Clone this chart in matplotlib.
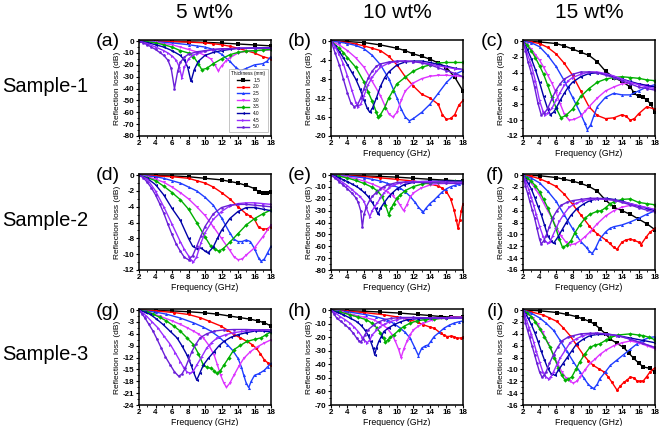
import matplotlib
matplotlib.use("Agg")
import matplotlib.pyplot as plt
from matplotlib.ticker import MultipleLocator

plt.rcParams['font.family'] = ['Liberation Sans', 'DejaVu Sans']
plt.rcParams['axes.unicode_minus'] = False

THICKNESS = ['1.5', '2.0', '2.5', '3.0', '3.5', '4.0', '4.5', '5.0']
COLUMN_TITLES = ['5 wt%', '10 wt%', '15 wt%']
ROW_TITLES = ['Sample-1', 'Sample-2', 'Sample-3']
PANEL_LETTERS = ['(a)', '(b)', '(c)', '(d)', '(e)', '(f)', '(g)', '(h)', '(i)']
Y_MIN = [-80, -20, -12, -12, -80, -16, -24, -70, -16]
Y_STEP = [10, 4, 2, 2, 10, 2, 3, 10, 2]

# ---- panel (a) ----
A_F = [[2,4,6,8,10,12,14,16,18],
       [2,4,6,8,10,11,12,13,14,15,16,17,18],
       [2,4,6,8,9,10,11,12,13,13.7,14.3,15,16,17,17.5,18],
       [2,4,6,7,8,9,10,10.7,11.2,11.6,12,12.5,13,14,15,16,17,18],
       [2,3,4,5,6,7,8,8.6,9.2,9.6,10.2,11,12,13,14,15,16,17,18],
       [2,3,4,5,6,7,7.5,7.9,8.3,8.7,9.2,10,11,12,13,14,16,18],
       [2,3,4,5,5.5,6,6.5,6.9,7.2,7.5,8,8.5,9,10,11,12,14,16,18],
       [2,2.5,3,3.5,4,4.5,5,5.5,5.9,6.3,6.7,7,7.5,8,9,10,11,12,14,16,18]]
A_RL = [[0,-0.1,-0.3,-0.6,-1,-1.6,-2.4,-3.2,-4],
        [0,-0.1,-0.3,-0.8,-1.5,-2.2,-3,-4.3,-6,-8,-10,-13,-15],
        [0,-0.5,-1.5,-3,-4,-5,-7,-11,-17,-22,-25,-23,-20,-19,-17,-13],
        [0,-1,-3,-5,-7,-9,-12,-15,-20,-25,-21,-17,-14,-10,-8.5,-8,-7.8,-7.5],
        [0,-0.5,-1.5,-3,-5,-8,-10,-13,-19,-24,-23,-19,-15,-11.5,-9.5,-8.5,-8,-7.5,-7],
        [0,-1.2,-3,-5,-8,-12,-16,-22,-34,-24,-17,-12,-9.5,-8,-7,-6,-5.7,-5.5],
        [0,-2,-5,-8,-10,-12.5,-16,-22,-31,-22,-15,-12,-10.5,-8.5,-7.2,-6.5,-6,-6,-6],
        [0,-1.5,-3,-5,-7,-9.5,-12,-16,-23,-40,-25,-18,-13.5,-11,-9,-8,-7,-6.5,-6.2,-6,-6]]

# ---- panel (b) ----
B_F = [[2,4,6,8,10,11,12,13,14,15,16,17,18],
       [2,3,4,5,6,7,8,9,10,11,12,13,14,15,15.5,16,16.5,17,17.5,18],
       [2,3,4,5,6,7,8,9,10,10.5,11,11.5,12,13,14,15,16,17,18],
       [2,3,4,5,6,7,8,8.5,9,9.5,10,10.5,11,12,13,14,15,16,17,18],
       [2,3,3.5,4,5,6,6.5,7,7.5,7.7,8,8.5,9,9.5,10,11,12,13,14,15,16,17,18],
       [2,2.5,3,3.5,4,4.5,5,5.5,6,6.4,6.7,7,7.5,8,8.5,9,10,11,12,13,14,15,16,17,18],
       [2,2.5,3,3.5,4,4.5,5,5.3,5.6,6,6.5,7,7.5,8,9,10,11,12,13,14,15,16,17,18],
       [2,2.5,3,3.5,4,4.4,4.8,5.2,5.6,6,6.5,7,7.5,8,9,10,11,12,13,14,15,16,17,18]]
B_RL = [[0,-0.1,-0.3,-0.8,-1.5,-2,-2.7,-3.2,-3.8,-4.6,-5.6,-7.6,-10.5],
        [0,-0.1,-0.3,-0.6,-1,-1.5,-2,-3.2,-5,-7.5,-9.5,-11.2,-12,-13.3,-15.5,-16.5,-16.3,-15.5,-13.5,-12.5],
        [0,-0.2,-0.5,-0.9,-1.6,-3,-5,-7.9,-12,-14.3,-16,-16.8,-16.3,-15,-13.3,-11,-8.7,-7,-6.2],
        [0,-0.8,-2,-3.5,-5.5,-8.5,-11.5,-13.5,-15.3,-16,-15,-12.5,-10.5,-8.8,-7.9,-7.4,-7.2,-7.2,-7.3,-7.5],
        [0,-1.5,-2.4,-3.5,-5.5,-8.6,-10.7,-12.7,-15,-16,-15.5,-14,-12,-10.5,-9,-7.6,-6.3,-5.5,-5,-4.6,-4.5,-4.5,-4.5],
        [0,-1,-2.2,-3.5,-5,-6.5,-8,-10,-12.4,-14.2,-15,-14.2,-12,-9.5,-7.7,-6.5,-5,-4.4,-4.2,-4.2,-4.5,-4.9,-5.3,-5.7,-6],
        [0,-1.2,-2.8,-4.8,-7.4,-10.2,-12.9,-13.8,-13.3,-11.5,-9.2,-7.6,-6.4,-5.5,-4.6,-4.3,-4.2,-4.3,-4.5,-4.8,-5.2,-5.5,-5.8,-6],
        [0,-2.5,-5,-8,-11,-13,-13.8,-13.5,-12,-10,-7.8,-6.3,-5.3,-4.8,-4.4,-4.2,-4.2,-4.3,-4.6,-5,-5.6,-6.2,-6.8,-7.5]]

# ---- panel (c) ----
C_F = [[2,4,6,7,8,9,10,11,12,13,14,15,15.5,16,16.5,17,17.5,18],
       [2,3,4,5,6,7,8,9,10,11,12,13,14,14.5,15,15.5,16,17,18],
       [2,3,4,5,6,7,8,9,9.5,9.8,10.2,10.6,11,12,13,14,15,16,17,18],
       [2,2.5,3,3.5,4,4.5,5,5.5,6,6.5,7,7.6,8.2,9,9.5,10,11,12,13,14,15,16,17,18],
       [2,2.5,3,3.5,4,4.5,5,5.5,6,6.6,7.2,8,8.5,9,10,11,12,13,14,15,16,17,18],
       [2,2.5,3,3.5,4,4.5,5,5.3,5.7,6,6.5,7,7.5,8,9,10,11,12,13,14,15,16,17,18],
       [2,2.5,3,3.5,4,4.4,4.7,5,5.5,6,6.5,7,7.5,8,9,10,11,12,13,14,15,16,17,18],
       [2,2.3,2.6,3,3.4,3.8,4.2,4.6,5,5.5,6,6.5,7,8,9,10,11,12,13,14,15,16,17,18]]
C_RL = [[0,-0.1,-0.3,-0.6,-1,-1.4,-1.8,-2.6,-3.8,-4.6,-5.1,-5.8,-6.6,-7,-7.1,-7.4,-8,-9],
        [0,-0.1,-0.3,-0.8,-1.6,-2.8,-4.3,-6.3,-8.3,-9.4,-9.8,-9.7,-9.3,-9.5,-10,-9.8,-9.2,-8.3,-8.6],
        [0,-0.2,-0.7,-1.8,-3.2,-5,-7.1,-9.2,-10.4,-11.2,-10.6,-9.4,-8.3,-7.1,-6.6,-6.8,-6.8,-6.3,-5.8,-5.5],
        [0,-0.4,-1,-1.7,-2.4,-3.3,-4.3,-5.3,-6.5,-7.9,-9.2,-10,-9.9,-9.5,-8.9,-8.3,-7.2,-6.3,-5.8,-5.4,-5.3,-5.4,-5.6,-5.8],
        [0,-0.5,-1.2,-2.1,-3.1,-4.2,-5.6,-7.1,-8.4,-9.7,-9.4,-8.6,-7.8,-7,-6,-5.2,-4.8,-4.6,-4.5,-4.6,-4.7,-4.9,-5],
        [0,-1,-2.2,-3.6,-5.2,-7,-8.6,-9.3,-9,-8.5,-7.5,-6.6,-5.8,-5.2,-4.5,-4.1,-4,-4.2,-4.5,-4.8,-5.1,-5.4,-5.6,-5.8],
        [0,-1.5,-3,-5,-7.5,-8.8,-9.3,-9.1,-8.5,-7.5,-6.5,-5.6,-5,-4.6,-4.2,-3.9,-3.9,-4.1,-4.4,-4.8,-5.2,-5.5,-5.8,-6],
        [0,-1.2,-2.6,-4,-5.8,-7.8,-9.3,-9.1,-8.5,-7.3,-6.2,-5.4,-4.8,-4.2,-3.9,-3.9,-4,-4.3,-4.6,-5,-5.4,-5.8,-6,-6.2]]

# ---- panel (d) ----
D_F = [[2,4,6,8,10,12,13,14,15,16,16.5,17,17.5,18],
       [2,4,6,8,9,10,11,12,13,14,15,15.5,16,16.5,17,17.5,18],
       [2,4,5,6,7,8,9,10,11,12,13,13.5,14,14.5,15,15.5,16,16.5,16.8,17.2,17.6,18],
       [2,3,4,5,6,7,8,9,10,11,12,13,13.5,14,14.5,15,16,17,18],
       [2,3,4,5,6,7,8,9,10,10.7,11.2,11.7,12.2,13,14,15,16,17,18],
       [2,3,4,5,6,7,8,8.5,9,9.5,10,10.4,11,11.5,12,13,14,15,16,17,18],
       [2,3,4,5,6,7,7.5,8,8.3,8.6,9,9.5,10,11,12,13,14,15,16,17,18],
       [2,2.5,3,3.5,4,4.5,5,5.5,6,6.5,7,7.5,8,8.5,9,9.5,10,11,12,13,14,15,16,17,18]]
D_RL = [[0,-0.05,-0.1,-0.2,-0.4,-0.6,-0.8,-1,-1.3,-1.7,-2.1,-2.2,-2.2,-2.1],
        [0,-0.1,-0.2,-0.4,-0.7,-1,-1.5,-2.2,-3,-4,-4.9,-5.2,-5.6,-6.6,-6.8,-6.8,-6.5],
        [0,-0.2,-0.4,-0.7,-1,-1.5,-2,-2.8,-3.8,-5.4,-7.3,-8.1,-8.4,-8.4,-8.2,-8.4,-9.3,-10.5,-10.9,-10.6,-9.8,-9],
        [0,-0.2,-0.5,-0.9,-1.5,-2.2,-3,-4,-5.1,-6.5,-8,-9.5,-10.3,-10.7,-10.6,-10.1,-9.2,-7.8,-6.3],
        [0,-0.3,-0.7,-1.4,-2.2,-3.1,-4.3,-6,-7.8,-9,-9.4,-9.6,-9.3,-8.5,-7.4,-6.3,-5.5,-4.9,-4.4],
        [0,-0.4,-1.2,-2.5,-4.2,-5.7,-8,-9,-9.3,-9.2,-9.6,-9.8,-9.1,-8,-7,-5.5,-4.6,-4.1,-4.1,-4.3,-4.5],
        [0,-0.5,-2,-4,-6.2,-8.4,-9.4,-10.2,-10.7,-11,-10.3,-8.6,-7.3,-5.6,-4.6,-3.9,-3.6,-3.5,-3.5,-3.6,-3.7],
        [0,-0.3,-0.9,-1.6,-2.5,-3.6,-4.8,-6.2,-7.5,-8.7,-9.6,-10.4,-10.7,-10.2,-9,-7.7,-6.5,-4.9,-4.1,-3.8,-3.7,-3.7,-3.8,-3.9,-4]]

# ---- panel (e) ----
E_F = [[2,4,6,8,10,12,14,16,18],
       [2,4,6,8,10,12,13,14,15,15.5,16,16.5,16.9,17.2,17.4,17.6,17.8,18],
       [2,4,6,7,8,8.8,9.5,10.4,11,11.6,12.2,12.6,13,13.2,13.5,14,14.5,15,15.5,16,16.5,17,17.5,18],
       [2,3,4,5,6,7,8,8.8,9.5,10,10.4,10.8,11.2,11.6,12,12.9,14,15,16,17,18],
       [2,3,4,5,6,7,7.6,8.2,8.6,9,9.3,9.6,10,10.4,11,12,13,14,15,16,17,18],
       [2,2.5,3,3.5,4,4.5,5,5.5,6,6.5,7,7.4,7.7,8,8.4,9,9.4,10,10.8,12,13,14,16,18],
       [2,2.5,3,3.5,4,4.5,5,5.5,6,6.3,6.7,7,7.3,7.6,8,8.4,9,9.6,10.5,11.2,12,14,16,18],
       [2,2.5,3,3.5,4,4.5,5,5.3,5.6,5.8,6,6.3,6.7,7,7.4,8,8.4,9,10,11,12,14,16,18]]
E_RL = [[0,-0.3,-0.6,-1.1,-1.7,-2.6,-3.5,-4.3,-5],
        [0,-0.5,-1.2,-2.3,-3.6,-5,-6.2,-7.5,-9.2,-11,-14,-20,-29,-38,-45,-38,-30,-24],
        [0,-0.8,-2.2,-3.5,-5,-6.8,-8.6,-11,-14,-18,-23,-27,-30,-31,-28,-24,-21,-17.5,-14,-11.5,-9.8,-8.6,-7.6,-7],
        [0,-0.6,-1.5,-3,-5,-7.5,-10.5,-13.8,-17.5,-21,-25.5,-30,-25,-18.5,-15,-11,-8.3,-7.2,-7,-7,-7],
        [0,-0.9,-2.4,-4.5,-7,-10.2,-13.2,-18,-25,-33.5,-28,-24,-19.5,-16.6,-13,-9.6,-7.6,-6.5,-5.8,-5.4,-5.2,-5],
        [0,-1,-2.3,-3.9,-5.5,-7.3,-9.2,-11.5,-14.5,-18,-23,-28,-33,-28,-23.7,-18,-15.2,-11.5,-8.2,-6,-5.4,-5.1,-5,-5],
        [0,-1.6,-4,-6.5,-9,-12,-15,-18,-22,-27.9,-35,-30,-26.5,-23.7,-19,-15.2,-11,-8.2,-6.5,-5.6,-5.3,-5.5,-5.8,-6],
        [0,-2.5,-5.5,-8.5,-11.5,-15,-19,-23,-30,-44,-33,-26.5,-21,-18,-15.2,-11.5,-9.6,-8,-6.2,-5.8,-6,-6.5,-6.8,-7]]

# ---- panel (f) ----
F_F = [[2,4,6,7,8,9,10,11,12,13,14,15,16,17,18],
       [2,3,4,5,6,7,8,9,10,10.5,11,12,12.5,13,13.4,14,14.5,15,15.5,16,16.3,16.9,17.4,18],
       [2,3,4,5,6,7,8,8.5,9,9.7,10,10.4,10.8,11.3,12,12.5,13,14,15,16,17,18],
       [2,2.5,3,3.5,4,4.5,5,5.5,6,6.6,7.2,7.7,8.3,8.9,9.5,10.1,11,12,13,14,15,16,17,18],
       [2,2.5,3,3.5,4,4.5,5,5.5,6,6.4,6.8,7.3,7.8,8.3,8.9,9.5,10.1,11,11.5,12,12.5,13,14,15,16,17,18],
       [2,2.3,2.6,3,3.4,3.8,4.2,4.6,5,5.4,5.7,6.2,6.7,7.2,7.8,8.5,9.3,10.1,11,12,13,14,15,16,17,18],
       [2,2.2,2.4,2.7,3,3.3,3.6,4,4.4,4.7,5,5.3,5.6,6,6.4,7,7.6,8.5,9.3,10.1,10.9,12,13.3,15,16.5,18],
       [2,2.15,2.3,2.55,2.8,3.1,3.4,3.7,4,4.2,4.5,4.8,5.2,5.6,6.1,6.6,7.3,8,9,10.1,11,12.1,13,14,15,16,17,18]]
F_RL = [[0,-0.1,-0.4,-0.7,-1,-1.4,-1.9,-2.7,-4.2,-5.4,-6,-6.6,-7.4,-8.2,-9.2],
        [0,-0.2,-0.6,-1.2,-1.9,-3.2,-4.9,-6.7,-8.5,-9.3,-9.9,-10.9,-11.5,-12.2,-12.5,-11.3,-10.9,-10.8,-11,-11.3,-11.7,-10.5,-9.6,-9],
        [0,-0.5,-1.3,-2.7,-4.4,-6.7,-9,-10.2,-11.2,-12.2,-12.8,-13.2,-12.3,-10.8,-9.6,-9,-8.7,-8.4,-7.9,-7.3,-6.6,-6],
        [0,-0.6,-1.3,-2.3,-3.4,-4.7,-6,-7.2,-8.7,-10.2,-11.3,-11.7,-11.6,-11.1,-10.4,-9.6,-8.2,-6.9,-6,-5.4,-5.1,-5.2,-5.5,-5.8],
        [0,-0.5,-1,-1.8,-2.8,-4.1,-5.5,-7.2,-9,-10.8,-12.2,-11.8,-11.1,-9.7,-8.4,-7.3,-6.6,-6.1,-6,-5.5,-4.9,-4.5,-4.1,-4,-4.6,-4.8,-5],
        [0,-0.7,-1.3,-2.3,-3.7,-5.2,-6.6,-8.4,-10.2,-11.1,-11.5,-10.5,-9.3,-8.1,-6.8,-5.7,-4.9,-4.3,-4,-3.9,-4.1,-4.4,-4.8,-5.2,-5.6,-6],
        [0,-0.6,-1.3,-2.4,-3.7,-5.1,-6.6,-8.6,-10.2,-11.1,-11.5,-11.2,-10.2,-9,-7.8,-6.5,-5.4,-4.7,-4.3,-4.1,-4,-4.1,-4.3,-4.8,-5.3,-5.8],
        [0,-0.8,-1.9,-3,-4.3,-5.8,-7.2,-9,-10.8,-11.6,-11.1,-10.2,-8.7,-7.2,-6,-5.1,-4.6,-4.3,-4.1,-3.9,-3.9,-4,-4.2,-4.6,-5,-5.5,-5.9,-6.2]]

# ---- panel (g) ----
G_F = [[2,4,6,8,10,11.5,13,14.3,15.5,16.4,17.2,18],
       [2,4,6.2,8,9.4,10.5,11.9,12.7,13.5,14.3,15.1,15.7,16.2,16.7,17.2,17.6,18],
       [2,4,5.3,7,8.6,9.7,10.7,11.7,12.7,13.4,14,14.4,14.7,15,15.3,15.6,16,16.6,17.2,17.6,18],
       [2,3,4.5,6,7,7.8,8.6,9.2,9.8,10.5,11.1,11.5,11.9,12.3,12.6,13,13.5,14.1,14.7,15.5,16.4,17.2,18],
       [2,3,3.7,4.5,5.3,6.2,7,7.8,8.6,9.2,9.8,10.3,10.7,11.1,11.4,11.8,12.3,12.9,13.5,14.3,15.1,16,16.8,17.4,18],
       [2,2.7,3.3,4.1,4.9,5.7,6.6,7.2,7.8,8.3,8.6,9,9.4,9.8,10.4,11.1,11.7,12.3,13.1,14,15,16,17,18],
       [2,2.5,2.9,3.6,4.3,5,5.8,6.4,7,7.4,7.8,8.2,8.6,9,9.6,10.2,10.8,11.5,12.5,13.5,14.5,16,17,18],
       [2,2.35,2.7,3.2,3.7,4.2,4.7,5.2,5.8,6.3,6.8,7.2,7.6,8,8.4,8.9,9.4,10.2,11.1,12.3,13.5,15,16.5,18]]
G_RL = [[0,-0.1,-0.2,-0.4,-0.7,-1,-1.5,-1.9,-2.3,-2.7,-3.2,-4],
        [0,-0.2,-0.6,-1.1,-1.9,-2.8,-4,-5,-6.2,-7,-7.9,-8.7,-9.6,-11,-12.6,-13.3,-14],
        [0,-0.5,-1,-2,-3.2,-4.2,-5.3,-6.8,-8.7,-10.3,-12.2,-14.3,-16.5,-18.5,-19.6,-18,-16.5,-16,-15.2,-14.3,-13.5],
        [0,-0.5,-1.5,-2.7,-3.6,-4.4,-5.3,-6,-7,-9,-11.3,-13.8,-16.5,-18.5,-19.5,-18.5,-16.5,-14.2,-12.2,-10.5,-9.2,-8.3,-7.5],
        [0,-0.4,-1,-1.8,-2.7,-4,-5.3,-7,-8.7,-11,-13.9,-14.5,-14.7,-15.3,-16,-15.5,-13.9,-12,-10,-8.9,-7.9,-7.4,-7,-6.2,-5.5],
        [0,-0.5,-1,-2.2,-3.6,-5.2,-7,-9,-11.3,-13.8,-15.6,-17.7,-15.8,-13.9,-12.2,-10.5,-9,-7.9,-6.9,-6.2,-5.7,-5.3,-5.3,-5.5],
        [0,-0.8,-1.5,-3,-4.5,-6.5,-8.7,-10.8,-13,-14.5,-15.6,-16,-15.4,-13.9,-11.8,-9.6,-8.2,-7,-6.2,-5.7,-5.4,-5.1,-5,-5],
        [0,-0.9,-1.9,-3.6,-5.3,-7.4,-9.6,-11.8,-13.9,-15.6,-16.7,-16.2,-14.7,-12.6,-10.5,-8.6,-7,-6,-5.3,-5,-4.9,-4.9,-5,-5]]

# ---- panel (h) ----
H_F = [[2,4,6,8,10.4,12.5,14,15.3,16.5,18],
       [2,4,6,8.4,10,11.6,12.5,13.2,14,14.5,15.3,15.7,16.1,16.5,16.9,17.3,17.7,18],
       [2,4,6.3,7.5,8.8,9.6,10.4,11,11.6,12.1,12.6,13,13.4,13.8,14.1,14.5,15.1,15.7,16.3,16.9,17.5,18],
       [2,3.3,4.7,6,7.2,8,8.8,9.4,9.8,10.2,10.5,10.8,11.2,11.6,12,12.6,13.2,14.2,15.3,16.5,18],
       [2,3.1,4.3,5.3,6.3,7,7.6,8,8.4,8.6,8.9,9.2,9.6,10.2,10.8,11.6,12.4,13.4,14.5,16,18],
       [2,2.7,3.5,4.3,5.1,5.6,6.1,6.5,6.8,7.1,7.3,7.5,7.8,8.1,8.4,9,9.6,10.4,11.2,12.5,14,16,18],
       [2,2.5,3.1,3.7,4.3,4.8,5.3,5.8,6.1,6.4,6.7,7,7.5,8,8.6,9.2,10,10.8,12,14,16,18],
       [2,2.35,2.7,3.2,3.7,4.2,4.7,5.1,5.4,5.6,5.9,6.1,6.5,7.2,7.8,8.4,9.3,10.4,12,14,16,18]]
H_RL = [[0,-0.4,-0.8,-1.4,-2.2,-3.2,-4,-4.7,-5,-5],
        [0,-0.8,-1.8,-3.4,-5,-7.1,-9,-10.8,-12.5,-13.3,-17,-18.5,-19.5,-19.2,-19.5,-20.7,-20.5,-20],
        [0,-1.2,-3.4,-5,-7.1,-9.8,-13.3,-16.5,-20.7,-27,-33.5,-28,-26.5,-25.6,-23,-19.5,-16.5,-13.3,-11.2,-9.6,-8.6,-8],
        [0,-1.5,-3.4,-5.2,-7.1,-9.8,-13.3,-18,-23,-29,-35,-29,-23,-18,-14.5,-11.8,-9.6,-7.5,-5.9,-5.3,-5],
        [0,-1.4,-3.4,-5.2,-7.1,-9.8,-13.3,-17,-20.7,-23.5,-22,-20,-18.2,-15,-12.1,-9.6,-7.9,-7,-6.4,-6.1,-6],
        [0,-1.5,-3.4,-5.8,-8.4,-11,-14.5,-18.5,-23,-28,-33,-28,-23,-19.5,-15.8,-13,-10.8,-8.7,-7.1,-6.3,-6,-6,-6],
        [0,-2,-4.7,-7,-9.6,-12.5,-15.8,-20,-22.5,-24,-22,-18.2,-15,-12.1,-10,-8.4,-7,-5.9,-5.6,-5.7,-5.9,-6],
        [0,-2.6,-5.9,-8.3,-10.8,-13.5,-17,-20.5,-22.8,-23.5,-21,-18.2,-14.5,-10.8,-8.7,-7.1,-6.1,-5.4,-5.4,-5.7,-5.9,-6]]

# ---- panel (i) ----
I_F = [[2,4,6.1,7.3,8.5,9.3,10.1,10.7,11.3,12,12.6,13.4,14.2,14.8,15.4,16,16.6,17.4,18],
       [2,3,4.4,5.2,6.1,6.9,7.7,8.5,9.3,9.9,10.5,11.2,11.8,12.3,12.8,13.4,13.8,14.2,14.6,15,15.4,15.8,16.2,16.6,17,17.4,18],
       [2,3,4,4.8,5.7,6.5,7.3,8.1,8.9,9.4,9.9,10.3,10.6,11,11.3,12,12.6,13.4,14.2,15,15.8,16.6,17.4,18],
       [2,2.6,3.2,3.8,4.4,5,5.7,6.2,6.7,7.2,7.7,8.1,8.5,8.9,9.5,10.1,10.7,11.3,12.1,13,14,15,16,17,18],
       [2,2.5,3,3.5,4,4.6,5.3,5.8,6.3,6.7,7.1,7.5,7.9,8.4,8.9,9.5,10.1,10.7,11.3,12,12.6,13.5,15,16,16.6,17.3,18],
       [2,2.3,2.6,3,3.4,3.8,4.2,4.6,5,5.4,5.9,6.3,6.8,7.3,7.9,8.5,9.3,10.1,11,12.2,13.5,15,16.5,18],
       [2,2.2,2.4,2.7,3,3.3,3.6,4,4.4,4.8,5.1,5.4,5.7,6.1,6.5,7.1,7.7,8.5,9.3,10.1,10.9,12,13.4,15,16.5,18],
       [2,2.15,2.3,2.55,2.8,3.1,3.4,3.7,4,4.3,4.6,4.8,5.2,5.7,6.2,6.7,7.4,8.1,9,10.1,11,12.2,13.5,15,16.5,18]]
I_RL = [[0,-0.1,-0.4,-0.7,-1.1,-1.5,-1.9,-2.4,-3.1,-4,-4.9,-5.6,-6.3,-7.2,-8.1,-8.9,-9.6,-9.8,-10.5],
        [0,-0.3,-0.8,-1.3,-1.9,-3,-4.3,-5.9,-7.5,-8.5,-9.3,-9.9,-10.4,-11.2,-12.2,-13.5,-12.8,-12.2,-11.8,-11.3,-11.4,-11.9,-12,-11.9,-11.2,-10.4,-9.7],
        [0,-0.5,-1.3,-2.2,-3.4,-5.1,-6.9,-8.7,-10.4,-11.5,-12.5,-13,-13.2,-12.5,-11.6,-10.4,-9.3,-8.4,-7.5,-6.6,-5.7,-5,-4.6,-4.5],
        [0,-0.6,-1.3,-2.4,-3.7,-5.5,-7.5,-9,-10.4,-11.4,-12,-12.3,-12,-11.3,-10.1,-9,-8.3,-7.5,-6.7,-6,-5.5,-5.2,-5.5,-6,-6.5],
        [0,-0.5,-1.1,-2,-3.1,-4.5,-6.3,-8,-9.8,-11,-11.8,-11.6,-11.3,-10,-8.7,-7.4,-6.3,-5.9,-5.7,-5.1,-4.6,-4.2,-4,-4.2,-4.3,-4.6,-5],
        [0,-0.6,-1.3,-2.4,-3.7,-5.2,-6.9,-8.4,-9.8,-10.7,-11,-10.1,-9.1,-8.1,-6.9,-5.7,-4.9,-4.3,-4.1,-4.1,-4.3,-4.7,-5.1,-5.5],
        [0,-0.7,-1.6,-2.8,-4,-5.4,-6.9,-8.7,-10.4,-11.3,-11.6,-11.2,-10.4,-9.2,-8.1,-6.8,-5.5,-4.8,-4.3,-4,-3.9,-4,-4.3,-4.9,-5.6,-6.3],
        [0,-1,-2.2,-3.4,-4.6,-6,-7.5,-9,-10.4,-11.3,-10.9,-10.4,-9,-7.5,-6.3,-5.2,-4.6,-4.3,-4,-3.9,-3.9,-4,-4.3,-4.9,-5.6,-6.3]]

PANEL_F = [A_F, B_F, C_F, D_F, E_F, F_F, G_F, H_F, I_F]
PANEL_RL = [A_RL, B_RL, C_RL, D_RL, E_RL, F_RL, G_RL, H_RL, I_RL]

# styles
COLORS = ['#000000', '#ff0000', '#1f3dff', '#dd33ff', '#00b000', '#0000a8', '#9a2cff', '#6a1fd8']
MARKERS = ['s', 'o', '^', 'v', 'D', '<', '>', 'p']

W, H = 660, 426
fig = plt.figure(figsize=(W / 100, H / 100), dpi=100)

col_left = [139, 331, 523]
ax_w = 132
row_top = [40, 174, 309]
ax_h = 96

for idx in range(9):
    r, c = divmod(idx, 3)
    left = col_left[c] / W
    bottom = 1 - (row_top[r] + ax_h) / H
    ax = fig.add_axes([left, bottom, ax_w / W, ax_h / H])
    for k in range(8):
        ax.plot(PANEL_F[idx][k], PANEL_RL[idx][k], color=COLORS[k], lw=1.0,
                marker=MARKERS[k], ms=2.2, mew=0, label=THICKNESS[k])
    ymin = Y_MIN[idx]
    ax.set_xlim(2, 18)
    ax.set_ylim(ymin, -ymin * 0.012)
    ax.xaxis.set_major_locator(MultipleLocator(2))
    ax.yaxis.set_major_locator(MultipleLocator(Y_STEP[idx]))
    ax.xaxis.set_minor_locator(MultipleLocator(1))
    ax.yaxis.set_minor_locator(MultipleLocator(Y_STEP[idx] / 2))
    ax.tick_params(which='major', direction='out', length=2.2, width=0.8, pad=1)
    ax.tick_params(which='minor', direction='out', length=1.2, width=0.6)
    for lab in ax.get_xticklabels() + ax.get_yticklabels():
        lab.set_fontsize(5.8)
        lab.set_fontweight('bold')
    for s in ax.spines.values():
        s.set_linewidth(1.1)
    ax.set_ylabel('Reflection loss (dB)', fontsize=6, labelpad=1.5)
    if idx != 0:
        ax.set_xlabel('Frequency (GHz)', fontsize=6.3, labelpad=1.2)
    fig.text((col_left[c] - 19) / W, 1 - (row_top[r] + 2) / H, PANEL_LETTERS[idx],
             fontsize=14, ha='right', va='center')
    if idx == 0:
        leg = ax.legend(loc='lower right', fontsize=3.4, title='Thickness (mm)',
                        title_fontsize=3.4, handlelength=2.6, labelspacing=0.35,
                        borderpad=0.5, frameon=True, fancybox=False,
                        bbox_to_anchor=(0.995, 0.02), markerscale=1.0)
        leg.get_frame().set_edgecolor('#999999')
        leg.get_frame().set_linewidth(0.5)

for c, t in enumerate(COLUMN_TITLES):
    fig.text((col_left[c] + ax_w / 2) / W, 1 - 13 / H, t, fontsize=15,
             ha='center', va='center')
for r, t in enumerate(ROW_TITLES):
    fig.text(2 / W, 1 - (row_top[r] + ax_h / 2 - 2) / H, t, fontsize=14.5,
             ha='left', va='center')

fig.savefig('out.png', dpi=100)
